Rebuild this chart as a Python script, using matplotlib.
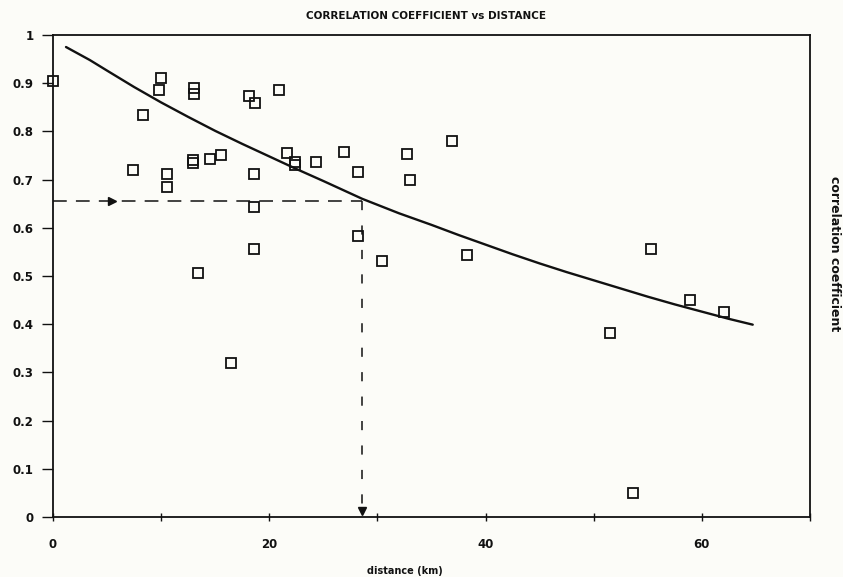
import matplotlib
matplotlib.use("Agg")
import matplotlib.pyplot as plt

# Observed station pairs: distance (km) and correlation coefficient
distance = [0.0, 10.0, 9.8, 8.3, 13.0, 13.0, 18.1, 18.7, 20.9,
            7.4, 10.5, 10.5, 12.9, 12.9, 14.5, 15.5, 18.6, 18.6, 18.6,
            13.4, 16.5, 21.6, 22.4, 22.4, 24.3, 26.9, 28.2, 28.2, 30.4,
            32.7, 33.0, 36.9, 38.3, 51.5, 53.6, 55.3, 58.9, 62.0]
correlation = [0.905, 0.911, 0.886, 0.834, 0.890, 0.878, 0.873, 0.859, 0.886,
               0.720, 0.712, 0.685, 0.741, 0.734, 0.743, 0.751, 0.712, 0.643, 0.556,
               0.506, 0.320, 0.755, 0.737, 0.730, 0.737, 0.757, 0.716, 0.583, 0.531,
               0.753, 0.699, 0.780, 0.544, 0.382, 0.050, 0.556, 0.450, 0.425]

# Fitted curve
curve_x = [1.2, 3.4, 5, 7.5, 10, 12.5, 15, 17.5, 20, 22.5, 25, 28.6, 32, 35,
           37.5, 40, 42.5, 45, 47.5, 50, 52.5, 55, 57.5, 60, 62.5, 64.7]
curve_y = [0.975, 0.948, 0.926, 0.892, 0.860, 0.830, 0.801, 0.774, 0.748, 0.722,
           0.697, 0.660, 0.630, 0.606, 0.585, 0.565, 0.545, 0.526, 0.508, 0.491,
           0.474, 0.457, 0.441, 0.426, 0.411, 0.399]

# Read-off reference point
ref_distance = 28.6
ref_corr = 0.656

x_ticks = [0, 10, 20, 30, 40, 50, 60, 70]
x_labels = ["0", "", "20", "", "40", "", "60", ""]
y_ticks = [0, 0.1, 0.2, 0.3, 0.4, 0.5, 0.6, 0.7, 0.8, 0.9, 1]
y_labels = ["0", "0.1", "0.2", "0.3", "0.4", "0.5", "0.6", "0.7", "0.8", "0.9", "1"]

bg = "#fcfcf8"
ink = "#111111"

fig = plt.figure(figsize=(8.43, 5.77), dpi=100, facecolor=bg)
ax = fig.add_axes([0.0629, 0.104, 0.898, 0.8354], facecolor=bg)

ax.plot(curve_x, curve_y, color=ink, lw=1.7, solid_capstyle="round")

ax.plot(distance, correlation, linestyle="none", marker="s", markersize=7,
        markerfacecolor="none", markeredgecolor=ink, markeredgewidth=1.3,
        clip_on=False, zorder=3)

# dashed reference lines with arrows
ax.plot([0, ref_distance], [ref_corr, ref_corr], color=ink, lw=1.1,
        dashes=(9, 6))
ax.plot([ref_distance, ref_distance], [ref_corr, 0], color=ink, lw=1.1,
        dashes=(6, 10))
ax.plot([ref_distance * 0.19], [ref_corr], marker=">", color=ink, markersize=6)
ax.plot([ref_distance], [0.012], marker="v", color=ink, markersize=6, clip_on=False)

ax.set_xlim(0, 70)
ax.set_ylim(0, 1)
ax.set_xticks(x_ticks)
ax.set_xticklabels(x_labels)
ax.set_yticks(y_ticks)
ax.set_yticklabels(y_labels)

for s in ax.spines.values():
    s.set_linewidth(1.3)
    s.set_color(ink)

ax.tick_params(axis="x", direction="inout", length=6, width=1, pad=12,
               labelsize=8.5, colors=ink)
ax.tick_params(axis="y", direction="out", length=8, width=1, pad=6,
               labelsize=8.5, colors=ink)
for lab in ax.get_xticklabels() + ax.get_yticklabels():
    lab.set_fontweight("bold")

fig.text(0.505, 0.972, "CORRELATION COEFFICIENT vs DISTANCE", ha="center",
         va="center", fontsize=7.5, fontweight="bold", color=ink)
fig.text(0.48, 0.010, "distance (km)", ha="center", va="center",
         fontsize=7, fontweight="bold", color=ink)
fig.text(0.990, 0.56, "correlation coefficient", ha="center", va="center",
         rotation=-90, fontsize=9, fontweight="bold", color=ink)

fig.savefig("out.png", dpi=100, facecolor=bg)
